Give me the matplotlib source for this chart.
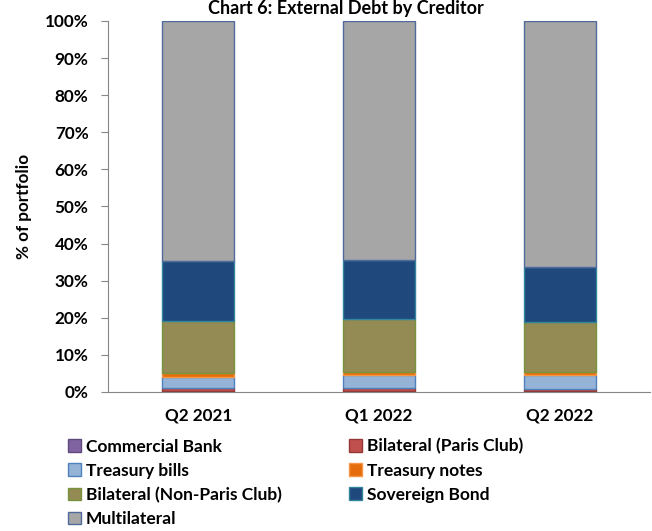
import matplotlib.pyplot as plt
import numpy as np

plt.rcParams['font.family'] = ['Lato', 'DejaVu Sans']
plt.rcParams['font.weight'] = 'bold'

quarters = ["Q2 2021", "Q1 2022", "Q2 2022"]
creditors = ["Commercial Bank", "Bilateral (Paris Club)", "Treasury bills", "Treasury notes",
             "Bilateral (Non-Paris Club)", "Sovereign Bond", "Multilateral"]

# share of portfolio, % (each column sums to 100)
commercial_bank = [0.2, 0.2, 0.2]
paris_club = [0.9, 0.9, 0.7]
treasury_bills = [3.0, 3.5, 3.7]
treasury_notes = [1.0, 0.9, 0.8]
non_paris_club = [14.0, 14.1, 13.5]
sovereign_bond = [16.3, 16.1, 14.8]
multilateral = [64.6, 64.3, 66.3]

fills = ["#8064A2", "#C0504D", "#95B3D7", "#E46C0A", "#948A54", "#1F497D", "#A6A6A6"]
edges = ["#604A7B", "#953735", "#4F81BD", "#F79646", "#77933C", "#31859C", "#4F6A9B"]

series = [commercial_bank, paris_club, treasury_bills, treasury_notes,
          non_paris_club, sovereign_bond, multilateral]

fig = plt.figure(figsize=(6.52, 5.31), dpi=100)
ax = fig.add_axes([0.1656, 0.2618, 0.8314, 0.6987])

x = np.arange(len(quarters))
bottom = np.zeros(len(quarters))
bars = []
for vals, fc, ec, name in zip(series, fills, edges, creditors):
    b = ax.bar(x, vals, 0.40, bottom=bottom, color=fc, edgecolor=ec, linewidth=1, label=name)
    bars.append(b)
    bottom += np.array(vals)

ax.set_xlim(-0.5, 2.5)
ax.set_ylim(0, 100)
ax.set_yticks(np.arange(0, 101, 10))
ax.set_yticklabels([f"{v}%" for v in range(0, 101, 10)], fontsize=12.3, fontweight='bold')
ax.set_xticks(x)
ax.set_xticklabels(quarters, fontsize=12.3, fontweight='bold')
ax.tick_params(axis='x', length=0, pad=11)
ax.tick_params(axis='y', length=5, color='#868686', pad=9)
for s in ['top', 'right']:
    ax.spines[s].set_visible(False)
for s in ['left', 'bottom']:
    ax.spines[s].set_color('#868686')
ax.set_ylabel("% of portfolio", fontsize=12.3, fontweight='bold', labelpad=9)

fig.text(0.53, 1.0, "Chart 6: External Debt by Creditor", ha='center', va='top',
         fontsize=13, fontweight='bold')

order = [0, 2, 4, 6, 1, 3, 5]
leg = fig.legend([bars[i] for i in order], [creditors[i] for i in order], ncol=2,
                 loc='lower left', bbox_to_anchor=(0.088, -0.012), frameon=False,
                 fontsize=12.5, handlelength=0.75, handleheight=0.75, handletextpad=0.3,
                 labelspacing=0.46, columnspacing=3.85, borderaxespad=0.2)

fig.savefig("out.png", dpi=100)
